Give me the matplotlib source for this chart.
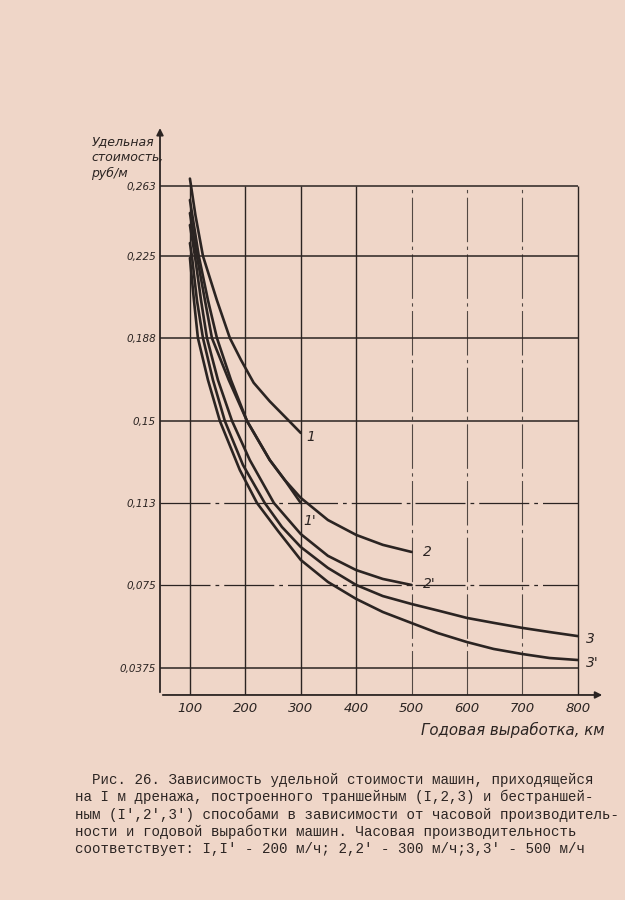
import numpy as np
import matplotlib
matplotlib.use('Agg')
from matplotlib import pyplot as plt

# axis ticks as printed on the drawing
x_ticks = [100, 200, 300, 400, 500, 600, 700, 800]
y_ticks = [0.0375, 0.075, 0.113, 0.15, 0.188, 0.225, 0.263]
y_tick_labels = ['0,0375', '0,075', '0,113', '0,15', '0,188', '0,225', '0,263']
# pixel heights of the printed tick lines (the original grid is not uniform at the top)
y_tick_pos = [668, 585, 503, 421, 338, 256, 186]

# curves: x = годовая выработка, y = удельная стоимость
x1 = [100, 110, 123.5, 148.7, 172, 192, 215, 244, 277, 300]
y1 = [0.267, 0.247, 0.225, 0.205, 0.188, 0.178, 0.1675, 0.1590, 0.1505, 0.1446]

x1p = [100, 112.6, 127, 139.7, 170, 203, 244, 271, 300]
y1p = [0.2483, 0.225, 0.2051, 0.188, 0.1688, 0.150, 0.1324, 0.1234, 0.113]

x2 = [100, 116, 132.5, 148.7, 174, 203, 244, 271, 300, 349, 400, 448, 500]
y2 = [0.2554, 0.225, 0.2051, 0.188, 0.1688, 0.150, 0.1324, 0.1234, 0.1153,
      0.1051, 0.0982, 0.0936, 0.0903]

x2p = [100, 109, 120, 130.7, 150.5, 176, 208, 251.5, 300, 349, 400, 448, 500]
y2p = [0.2418, 0.225, 0.2051, 0.188, 0.1688, 0.150, 0.1324, 0.113, 0.0986,
       0.0885, 0.0819, 0.0778, 0.075]

x3 = [100, 103.6, 112.6, 123.5, 141.5, 163, 195.6, 235, 266, 300, 349, 400, 448,
      500, 550, 600, 650, 700, 750, 800]
y3 = [0.232, 0.225, 0.2051, 0.188, 0.1688, 0.150, 0.1302, 0.113, 0.1019, 0.0926,
      0.0829, 0.075, 0.0700, 0.0664, 0.0633, 0.0601, 0.0578, 0.0556, 0.0537, 0.0519]

x3p = [100, 107.2, 114.4, 132.5, 154, 190, 221, 259, 300, 349, 400, 448, 500, 547,
       600, 648, 700, 749, 800]
y3p = [0.2241, 0.2051, 0.188, 0.1688, 0.150, 0.1279, 0.113, 0.1000, 0.0866, 0.0764,
       0.0687, 0.0628, 0.0578, 0.0533, 0.0492, 0.0461, 0.0438, 0.0420, 0.0411]

curves = [(x1, y1, '1', (4, -3)), (x1p, y1p, "1'", (2, -13)),
          (x2, y2, '2', (8, 0)), (x2p, y2p, "2'", (8, 1)),
          (x3, y3, '3', (6, -2)), (x3p, y3p, "3'", (6, -2))]

caption = ("  Рис. 26. Зависимость удельной стоимости машин, приходящейся\n"
           "на I м дренажа, построенного траншейным (I,2,3) и бестраншей-\n"
           "ным (I',2',3') способами в зависимости от часовой производитель-\n"
           "ности и годовой выработки машин. Часовая производительность\n"
           "соответствует: I,I' - 200 м/ч; 2,2' - 300 м/ч;3,3' - 500 м/ч")

paper = '#efd6c8'
ink = '#2b2422'

# piecewise scale so the grid sits where it was drawn
vals = [0.0] + y_ticks + [0.35]
pos = [-751] + [-p for p in y_tick_pos] + [-26]
def fwd(v):
    return np.interp(v, vals, pos)
def inv(p):
    return np.interp(p, pos, vals)

fig = plt.figure(figsize=(6.25, 9), dpi=100, facecolor=paper)
ax = fig.add_axes([0.256, 0.2278, 0.712, 0.633])
ax.set_facecolor(paper)
ax.set_yscale('function', functions=(fwd, inv))
ax.set_xlim(46, 849)
ax.set_ylim(0.0253, 0.296)

# grid, hand drawn in the original
solid_x = [100, 200, 300, 400, 800]
for xv in x_ticks:
    if xv in solid_x:
        ax.vlines(xv, 0.0253, 0.263, color=ink, lw=1.0, zorder=1)
    else:
        ax.vlines(xv, 0.0253, 0.263, color=ink, lw=0.8, alpha=0.8,
                  linestyles=(0, (40, 4, 3, 4)), zorder=1)
for yv in y_ticks:
    if yv in (0.113, 0.075):
        ax.hlines(yv, 46, 800, color=ink, lw=0.9, linestyles=(0, (40, 4, 3, 4)), zorder=1)
    else:
        ax.hlines(yv, 46, 800, color=ink, lw=1.1, zorder=1)

for xs, ys, lab, off in curves:
    ax.plot(xs, ys, color=ink, lw=1.9, solid_capstyle='round', solid_joinstyle='round', zorder=3)
    ax.annotate(lab, (xs[-1], ys[-1]), xytext=off, textcoords='offset points',
                ha='left', va='center', fontsize=10, style='italic', color=ink)

for s in ax.spines.values():
    s.set_visible(False)
ax.annotate('', xy=(1.0, 0), xytext=(0, 0), xycoords='axes fraction',
            arrowprops=dict(arrowstyle='-|>', lw=1.3, color=ink, mutation_scale=10))
ax.annotate('', xy=(0, 1.0), xytext=(0, 0), xycoords='axes fraction',
            arrowprops=dict(arrowstyle='-|>', lw=1.3, color=ink, mutation_scale=10))

ax.set_xticks(x_ticks)
ax.set_xticklabels([str(v) for v in x_ticks], style='italic', fontsize=9.5, color=ink)
ax.set_yticks(y_ticks)
ax.set_yticklabels(y_tick_labels, style='italic', fontsize=7.5, color=ink)
ax.minorticks_off()
ax.tick_params(axis='both', length=0, colors=ink)
ax.tick_params(axis='x', pad=5)
ax.tick_params(axis='y', pad=3)

fig.text(0.146, 0.825, 'Удельная\nстоимость,\nруб/м', fontsize=9, style='italic',
         color=ink, ha='left', va='center', linespacing=1.25)
fig.text(0.968, 0.189, 'Годовая выработка, км', fontsize=10.8, style='italic',
         color=ink, ha='right', va='center')

fig.text(0.12, 0.095, caption, family='Liberation Mono', fontsize=10.2, color=ink,
         ha='left', va='center', linespacing=1.26)

fig.savefig('out.png', dpi=100, facecolor=paper)
